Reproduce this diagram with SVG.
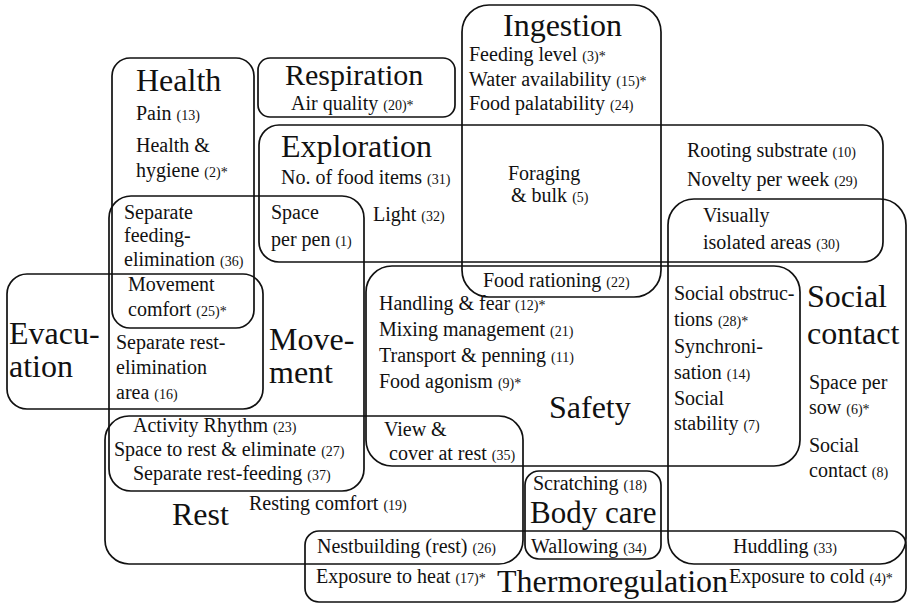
<svg xmlns="http://www.w3.org/2000/svg" width="909" height="606" viewBox="0 0 909 606">
  <style>
    .box { fill: none; stroke: #111; stroke-width: 1.7; }
    text { font-family: "Liberation Serif", "Times New Roman", serif; fill: #111; }
    .t { font-size: 32px; }
    .t2 { font-size: 30px; }
    .i { font-size: 20px; }
    .n { font-size: 14px; }
  </style>
  <rect x="0" y="0" width="909" height="606" fill="#fff"/>

  <!-- overlapping need areas; no connectors in this chart -->
  <g id="connectors"></g>

  <g id="ingestion">
    <rect class="box" x="462" y="5" width="199" height="292" rx="27"/>
    <text class="t" x="503" y="36">Ingestion</text>
    <text class="i" x="469" y="61">Feeding level <tspan class="n">(3)*</tspan></text>
    <text class="i" x="469" y="86">Water availability <tspan class="n">(15)*</tspan></text>
    <text class="i" x="469" y="110">Food palatability <tspan class="n">(24)</tspan></text>
    <text class="i" x="483" y="287">Food rationing <tspan class="n">(22)</tspan></text>
  </g>

  <g id="health">
    <rect class="box" x="112" y="58" width="142" height="270" rx="18"/>
    <text class="t" x="136" y="91">Health</text>
    <text class="i" x="136" y="120">Pain <tspan class="n">(13)</tspan></text>
    <text class="i" x="136" y="152">Health &amp;</text>
    <text class="i" x="136" y="177">hygiene <tspan class="n">(2)*</tspan></text>
    <text class="i" x="124" y="219">Separate</text>
    <text class="i" x="124" y="242">feeding-</text>
    <text class="i" x="124" y="266">elimination <tspan class="n">(36)</tspan></text>
  </g>

  <g id="respiration">
    <rect class="box" x="258" y="58" width="197" height="59" rx="12"/>
    <text class="t2" x="285" y="85">Respiration</text>
    <text class="i" x="291" y="110">Air quality <tspan class="n">(20)*</tspan></text>
  </g>

  <g id="exploration">
    <rect class="box" x="259" y="125" width="624" height="137" rx="20"/>
    <text class="t" x="281" y="157">Exploration</text>
    <text class="i" x="281" y="184">No. of food items <tspan class="n">(31)</tspan></text>
    <text class="i" x="508" y="180">Foraging</text>
    <text class="i" x="511" y="202">&amp; bulk <tspan class="n">(5)</tspan></text>
    <text class="i" x="687" y="157">Rooting substrate <tspan class="n">(10)</tspan></text>
    <text class="i" x="687" y="186">Novelty per week <tspan class="n">(29)</tspan></text>
    <text class="i" x="703" y="222">Visually</text>
    <text class="i" x="703" y="249">isolated areas <tspan class="n">(30)</tspan></text>
    <text class="i" x="271" y="219">Space</text>
    <text class="i" x="271" y="246">per pen <tspan class="n">(1)</tspan></text>
    <text class="i" x="373" y="221">Light <tspan class="n">(32)</tspan></text>
  </g>

  <g id="movement">
    <rect class="box" x="109" y="196" width="255" height="295" rx="22"/>
    <text class="t" x="269" y="350">Move-</text>
    <text class="t" x="269" y="383">ment</text>
    <text class="i" x="128" y="291">Movement</text>
    <text class="i" x="128" y="316">comfort <tspan class="n">(25)*</tspan></text>
  </g>

  <g id="evacuation">
    <rect class="box" x="7" y="274" width="256" height="135" rx="20"/>
    <text class="t" x="9" y="344">Evacu-</text>
    <text class="t" x="9" y="377">ation</text>
    <text class="i" x="116" y="349">Separate rest-</text>
    <text class="i" x="116" y="374">elimination</text>
    <text class="i" x="116" y="399">area <tspan class="n">(16)</tspan></text>
  </g>

  <g id="safety">
    <rect class="box" x="366" y="266" width="434" height="200" rx="26"/>
    <text class="t" x="549" y="418">Safety</text>
    <text class="i" x="379" y="310">Handling &amp; fear <tspan class="n">(12)*</tspan></text>
    <text class="i" x="379" y="336">Mixing management <tspan class="n">(21)</tspan></text>
    <text class="i" x="379" y="362">Transport &amp; penning <tspan class="n">(11)</tspan></text>
    <text class="i" x="379" y="388">Food agonism <tspan class="n">(9)*</tspan></text>
    <text class="i" x="674" y="300">Social obstruc-</text>
    <text class="i" x="674" y="326">tions <tspan class="n">(28)*</tspan></text>
    <text class="i" x="674" y="353">Synchroni-</text>
    <text class="i" x="674" y="379">sation <tspan class="n">(14)</tspan></text>
    <text class="i" x="674" y="405">Social</text>
    <text class="i" x="674" y="430">stability <tspan class="n">(7)</tspan></text>
    <text class="i" x="384" y="436">View &amp;</text>
    <text class="i" x="389" y="460">cover at rest <tspan class="n">(35)</tspan></text>
  </g>

  <g id="social-contact">
    <rect class="box" x="668" y="199" width="238" height="365" rx="26"/>
    <text class="t" x="807" y="307">Social</text>
    <text class="t" x="807" y="344">contact</text>
    <text class="i" x="809" y="389">Space per</text>
    <text class="i" x="809" y="414">sow <tspan class="n">(6)*</tspan></text>
    <text class="i" x="809" y="452">Social</text>
    <text class="i" x="809" y="477">contact <tspan class="n">(8)</tspan></text>
    <text class="i" x="733" y="553">Huddling <tspan class="n">(33)</tspan></text>
  </g>

  <g id="rest">
    <rect class="box" x="105" y="416" width="418" height="148" rx="24"/>
    <text class="t" x="172" y="525">Rest</text>
    <text class="i" x="133" y="432">Activity Rhythm <tspan class="n">(23)</tspan></text>
    <text class="i" x="114" y="456">Space to rest &amp; eliminate <tspan class="n">(27)</tspan></text>
    <text class="i" x="133" y="480">Separate rest-feeding <tspan class="n">(37)</tspan></text>
    <text class="i" x="249" y="510">Resting comfort <tspan class="n">(19)</tspan></text>
    <text class="i" x="317" y="553">Nestbuilding (rest) <tspan class="n">(26)</tspan></text>
  </g>

  <g id="body-care">
    <rect class="box" x="525" y="471" width="136" height="88" rx="14"/>
    <text class="i" x="533" y="490">Scratching <tspan class="n">(18)</tspan></text>
    <text class="t" x="530" y="523" style="font-size:31px">Body care</text>
    <text class="i" x="531" y="553">Wallowing <tspan class="n">(34)</tspan></text>
  </g>

  <g id="thermoregulation">
    <rect class="box" x="305" y="531" width="601" height="71" rx="14"/>
    <text class="i" x="316" y="583">Exposure to heat <tspan class="n">(17)*</tspan></text>
    <text class="t" x="497" y="592">Thermoregulation</text>
    <text class="i" x="729" y="583">Exposure to cold <tspan class="n">(4)*</tspan></text>
  </g>
</svg>
